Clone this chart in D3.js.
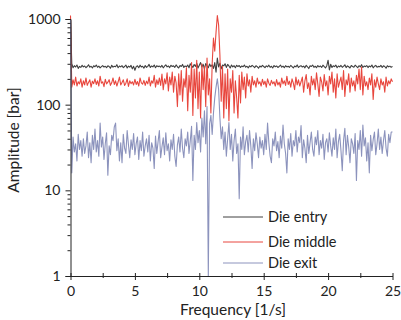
<!DOCTYPE html>
<html><head><meta charset="utf-8">
<script src="https://cdn.jsdelivr.net/npm/d3@7"></script>
<style>body{margin:0;background:#fff}text{font-family:Lato,"Open Sans",sans-serif;fill:#222}</style>
</head><body><svg id="c" width="401" height="320"></svg>
<script>
const freqStep = 0.1;
const seriesNames = ["Die entry", "Die middle", "Die exit"];
const seriesColors = ["#404040", "#e8473e", "#8c93bd"];
const xTicks = [0, 5, 10, 15, 20, 25];
const yTicks = [1, 10, 100, 1000];

const entry = [
950,300,270,285,275,290,265,280,272,288,
276,283,270,279,292,274,281,268,285,277,
290,273,282,269,278,286,275,280,271,284,
279,266,288,274,281,277,293,270,283,276,
285,271,279,290,268,282,274,287,262,280,
252,278,284,270,289,275,281,267,286,273,
280,295,272,283,276,290,270,285,278,282,
274,287,269,281,292,276,283,271,288,279,
284,273,291,277,268,286,279,295,272,283,
276,290,270,300,285,272,294,280,305,268,
288,310,275,296,262,302,284,270,298,278,
292,265,310,240,350,275,305,262,290,284,
300,272,295,283,268,290,276,285,270,288,
279,286,272,283,277,290,274,281,269,284,
276,288,280,271,285,278,266,283,275,287,
279,270,284,276,289,273,281,268,286,277,
283,272,279,290,274,282,270,285,276,281,
273,287,278,268,283,276,291,272,280,285,
275,282,269,288,277,264,284,279,290,273,
281,270,286,276,283,272,289,278,268,285,
330,255,296,272,284,278,290,270,283,276,
287,273,280,292,271,284,277,268,286,279,
274,289,280,270,285,276,293,272,282,278,
286,271,283,276,290,269,281,287,274,280,
277,288,272,284,279,266,285,276,282,273,
280];

const middle = [
1100,160,195,170,210,165,185,175,200,160,
190,170,205,168,182,195,160,188,176,200,
172,190,165,215,178,185,162,198,175,183,
196,168,180,205,172,190,165,185,210,170,
182,195,168,178,200,163,190,176,185,170,
198,172,186,165,205,180,174,192,168,188,
175,210,165,190,178,220,160,195,172,205,
168,228,150,200,175,235,145,210,170,240,
140,215,180,95,230,130,250,110,200,160,
270,85,220,140,310,75,260,120,330,90,
240,70,300,150,280,95,350,130,200,80,
300,600,420,700,1100,850,380,110,280,70,
230,90,260,65,200,140,250,80,190,120,
70,220,105,240,150,210,120,230,165,195,
140,215,170,190,160,205,175,185,165,198,
172,188,160,200,178,168,192,175,185,165,
196,170,183,160,205,175,190,168,215,172,
188,160,200,178,150,210,170,195,165,185,
210,140,190,225,155,180,130,215,170,200,
150,235,175,125,210,185,145,225,165,190,
130,215,175,240,140,200,120,230,160,185,
210,150,250,125,195,170,230,140,205,165,
190,145,220,175,260,150,275,130,215,165,
185,150,205,170,230,115,195,160,210,175,
150,200,170,185,140,210,165,190,175,200,
185];

const exit = [
1000,16,42,28,35,22,45,30,38,25,
40,27,33,48,24,36,21,44,30,52,
28,38,25,61,32,42,23,35,47,15,
33,26,44,38,55,61,29,40,22,36,
21,45,31,27,50,34,24,39,30,46,
26,35,42,23,38,29,48,25,33,40,
28,44,22,36,31,18,43,27,37,50,
24,32,41,26,47,29,35,22,39,30,
45,25,19,34,42,28,52,31,24,40,
33,48,27,38,56,13,44,30,62,36,
50,28,70,42,85,35,95,1,60,75,
45,80,120,160,200,150,70,40,55,30,
48,25,40,62,30,45,22,38,52,27,
35,8,42,30,55,26,37,44,28,50,
33,18,40,29,47,35,24,42,31,38,
26,45,30,61,36,25,21,40,33,48,
29,37,24,43,31,58,35,27,16,40,
30,46,25,38,33,50,28,42,36,57,
24,39,31,21,44,27,36,48,30,25,
42,34,50,26,38,31,45,23,36,40,
28,47,33,25,41,30,52,24,37,45,
29,17,38,53,26,44,32,21,40,35,
27,46,13,38,30,50,25,58,33,41,
22,36,16,44,29,39,48,26,35,52,
30,42,27,38,50,31,25,45,36,48,
48];

const series = [entry, middle, exit];

const svg = d3.select("#c");
const x = d3.scaleLinear().domain([0, 25]).range([70.5, 392.5]);
const y = d3.scaleLog().domain([1, 1000]).range([276, 19]);

// series
const line = d3.line().x((d, i) => x(i * freqStep)).y(d => y(d));
series.forEach((s, k) => {
  svg.append("path").datum(s).attr("d", line)
    .attr("fill", "none").attr("stroke", seriesColors[k]).attr("stroke-width", 1.1)
    .attr("stroke-linejoin", "round");
});

const fontFam = "Lato, 'Open Sans', sans-serif";

// y axis
const yMinor = [];
for (let e = 0; e < 3; e++) for (let m = 2; m <= 9; m++) yMinor.push(m * Math.pow(10, e));
const gy = svg.append("g").attr("transform", "translate(70.5,0)");
gy.call(d3.axisLeft(y).tickValues(yMinor).tickSize(3).tickFormat(""));
gy.call(g => g.selectAll(".domain").remove());
const gy2 = svg.append("g").attr("transform", "translate(70.5,0)");
gy2.call(d3.axisLeft(y).tickValues(yTicks).tickSize(5).tickPadding(5).tickFormat(d3.format("d")));
gy2.selectAll("text").style("font-size", "14px").style("font-family", fontFam).attr("fill", "#222");
gy.selectAll("line").attr("stroke", "#222");
gy2.selectAll("line,path").attr("stroke", "#222");

// x axis
const xMinor = [2.5, 7.5, 12.5, 17.5, 22.5];
const gx = svg.append("g").attr("transform", "translate(0,276)");
gx.call(d3.axisBottom(x).tickValues(xTicks).tickSizeInner(4).tickSizeOuter(0).tickPadding(6).tickFormat(d3.format("d")));
gx.selectAll(".tick line").attr("y1", -3);
gx.selectAll("line,path").attr("stroke", "#222");
gx.selectAll("text").style("font-size", "14px").style("font-family", fontFam).attr("fill", "#222");
const gxm = svg.append("g").attr("transform", "translate(0,276)");
gxm.call(d3.axisBottom(x).tickValues(xMinor).tickSize(2).tickFormat(""));
gxm.call(g => g.selectAll(".domain").remove());
gxm.selectAll(".tick line").attr("y1", -3).attr("stroke", "#222");

// axis titles
svg.append("text").attr("x", 233).attr("y", 315).attr("text-anchor", "middle")
  .style("font-size", "15.5px").text("Frequency [1/s]");
svg.append("text").attr("transform", "translate(19,140) rotate(-90)").attr("text-anchor", "middle")
  .style("font-size", "15.5px").text("Amplitude [bar]");

// legend
const legY = [217, 242, 263];
seriesNames.forEach((n, k) => {
  svg.append("line").attr("x1", 223).attr("x2", 263).attr("y1", legY[k]).attr("y2", legY[k])
    .attr("stroke", seriesColors[k]).attr("stroke-width", 1);
  svg.append("text").attr("x", 268).attr("y", legY[k]).attr("dy", "0.35em")
    .style("font-size", "14.5px").text(n);
});
</script></body></html>
